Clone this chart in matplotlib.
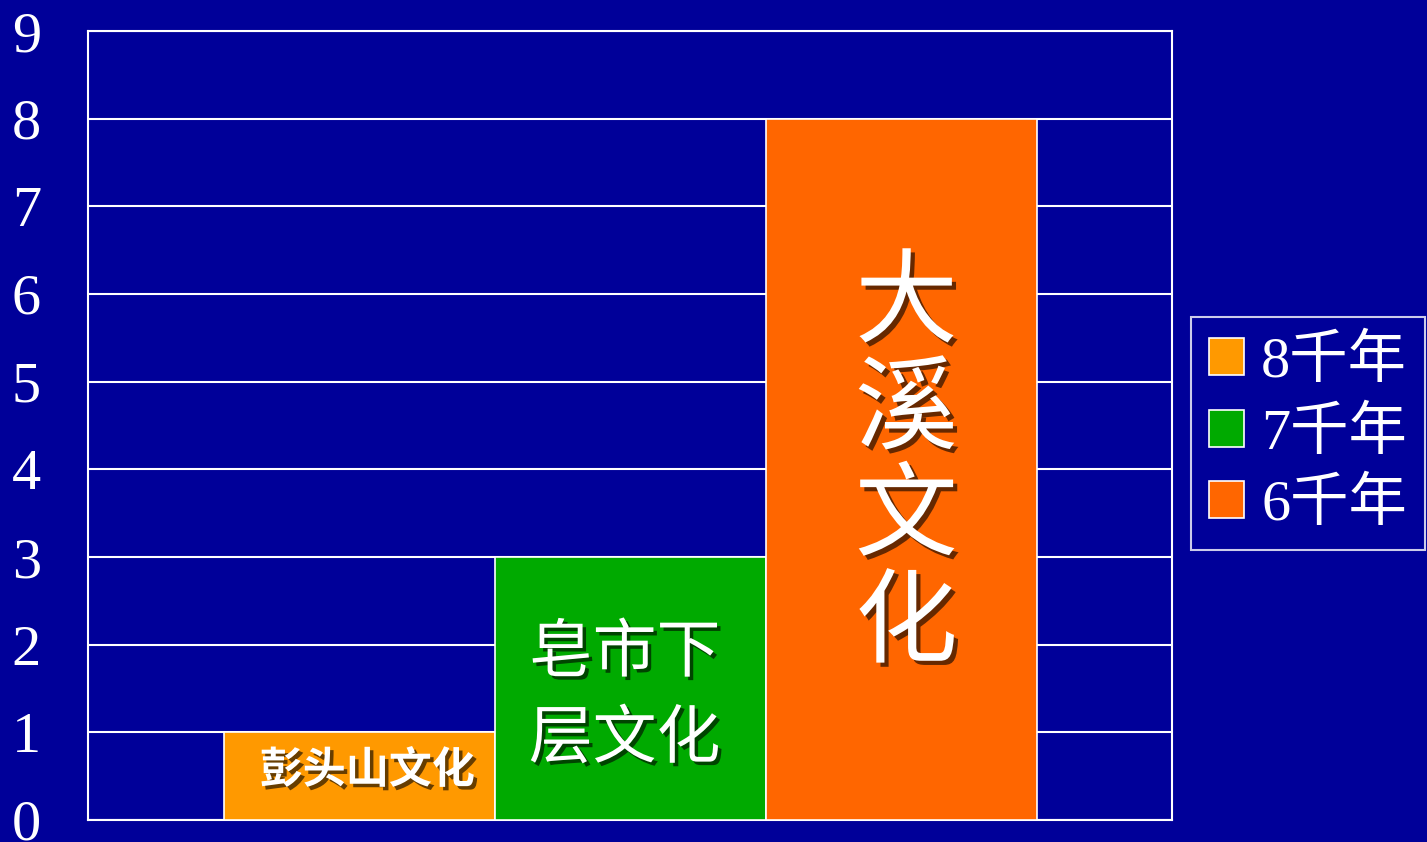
import matplotlib
matplotlib.use("Agg")
import matplotlib.pyplot as plt
import matplotlib.patheffects as pe
from matplotlib.patches import Patch

series = ['8千年', '7千年', '6千年']
values = [1, 3, 8]
bar_labels = ['彭头山文化', '皂市下\n层文化', '大\n溪\n文\n化']
colors = ['#FF9900', '#00AA00', '#FF6600']
yticks = list(range(0, 10))

BG = '#000099'
fig = plt.figure(figsize=(14.27, 8.42), dpi=100, facecolor=BG)
ax = fig.add_axes([88/1427, 1-820/842, (1172-88)/1427, (820-31)/842])
ax.set_facecolor(BG)

xs = list(range(len(values)))
bars = ax.bar(xs, values, width=1.0, color=colors, edgecolor='white', linewidth=1.2, zorder=3)
ax.set_xlim(-1, 3)
ax.set_ylim(0, 9)
ax.set_yticks(yticks)
ax.set_yticklabels([str(t) for t in yticks], fontsize=42, family='Liberation Serif', color='white')
ax.tick_params(axis='y', length=0, pad=34)
ax.set_xticks([])
ax.grid(axis='y', color='white', linewidth=1.5, zorder=0)
ax.set_axisbelow(True)
for s in ax.spines.values():
    s.set_color('white')
    s.set_linewidth(1.5)

cjk = ['Noto Sans CJK SC', 'DejaVu Sans']

def shadow(o):
    return [pe.SimplePatchShadow(offset=(o, -o), shadow_rgbFace='black', alpha=0.6), pe.Normal()]

ax.text(xs[0] + 0.03, 0.57, bar_labels[0], ha='center', va='center', fontsize=31,
        fontweight='bold', color='white', family=cjk, zorder=5, path_effects=shadow(2.5))
ax.text(xs[1] - 0.02, 1.41, bar_labels[1], ha='center', va='center', fontsize=46,
        color='white', family=cjk, zorder=5, linespacing=1.38, path_effects=shadow(2.5))
ax.text(xs[2] + 0.02, 4.05, bar_labels[2], ha='center', va='center', fontsize=74,
        color='white', family=cjk, zorder=5, linespacing=1.02, path_effects=shadow(3))

handles = [Patch(facecolor=c, edgecolor='white', linewidth=1.2) for c in colors]
leg = fig.legend(handles, series, loc='upper left', bbox_to_anchor=(1191/1427, 1-317/842),
                 borderaxespad=0, frameon=True, fancybox=False, facecolor=BG, edgecolor='white',
                 prop={'family': ['Liberation Serif', 'Noto Sans CJK SC'], 'size': 42},
                 labelcolor='white', handlelength=0.6, handleheight=0.6, handletextpad=0.3,
                 labelspacing=0.3, borderpad=0.3)
leg.get_frame().set_linewidth(1.5)

fig.savefig('out.png', dpi=100, facecolor=BG)
